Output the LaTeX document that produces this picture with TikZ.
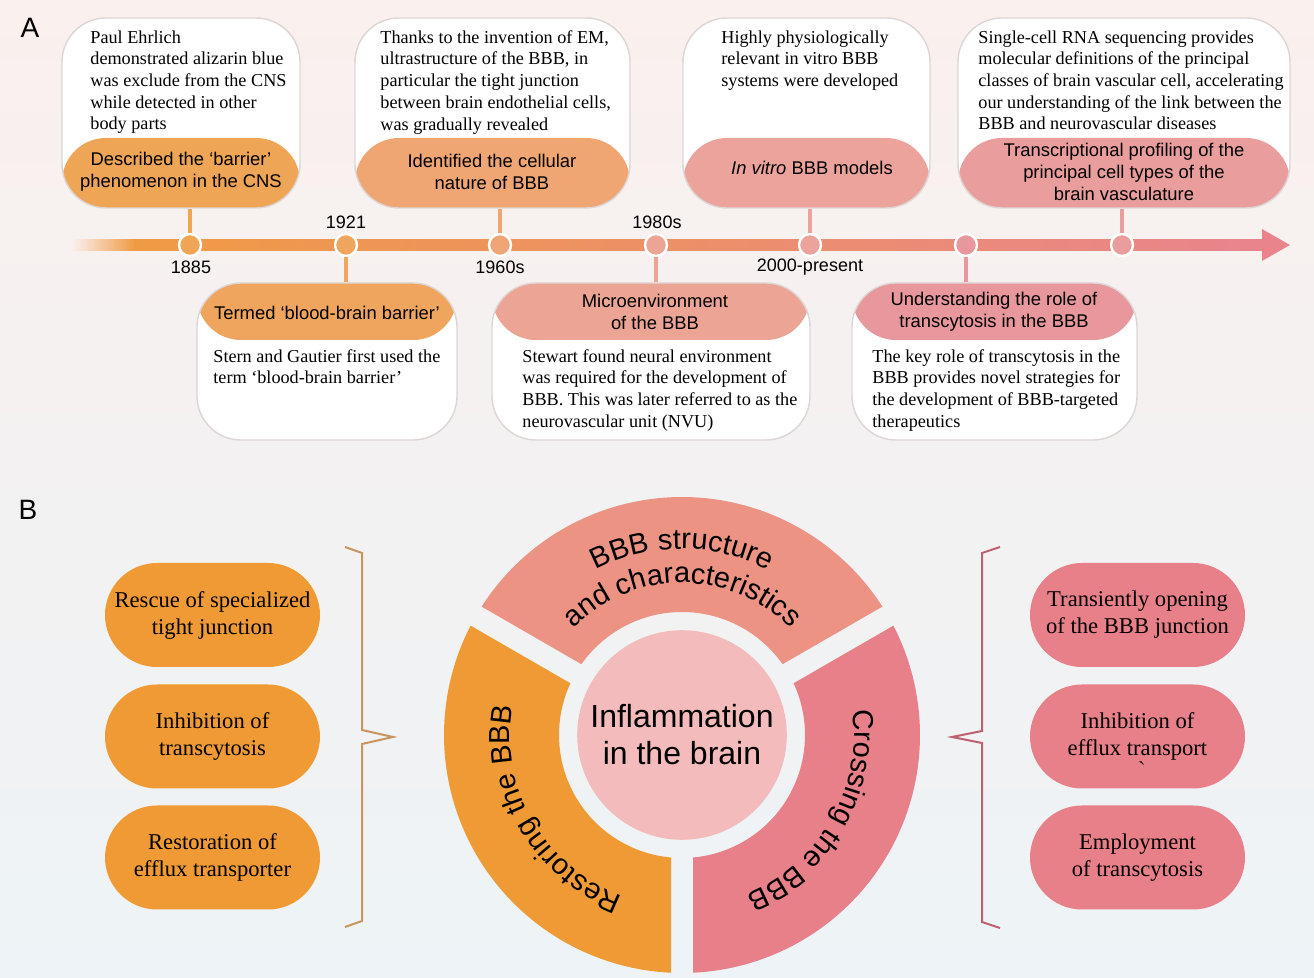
\documentclass[tikz,border=0pt]{standalone}
\usepackage{fontspec}
\setmainfont{Liberation Serif}
\setsansfont{Liberation Sans}
\usetikzlibrary{positioning,calc,decorations.text}

\definecolor{bgtop}{HTML}{FAF0EE}
\definecolor{bgmid}{HTML}{FAF7F1}
\definecolor{bgbot}{HTML}{EDF3F6}
\definecolor{cardline}{HTML}{DCD6D4}
\definecolor{bandA}{HTML}{EFA556}
\definecolor{bandB}{HTML}{F0A672}
\definecolor{bandC}{HTML}{EBA39C}
\definecolor{bandD}{HTML}{E99D9D}
\definecolor{bandE}{HTML}{EFA55D}
\definecolor{bandF}{HTML}{ECA594}
\definecolor{bandG}{HTML}{E8979C}
\definecolor{tlorange}{HTML}{EF9B45}
\definecolor{tlmid}{HTML}{EE9F84}
\definecolor{tlpink}{HTML}{E9848D}
\definecolor{ringtop}{HTML}{EC9384}
\definecolor{ringleft}{HTML}{EF9A35}
\definecolor{ringright}{HTML}{E8808A}
\definecolor{corefill}{HTML}{F3BBBB}
\definecolor{lbrace}{HTML}{C9955F}
\definecolor{rbrace}{HTML}{BE6070}

\newcommand\bodyfont{\fontsize{9.1}{10.85}\selectfont}
\newcommand\headfont{\sffamily\fontsize{9.2}{11}\selectfont}
\newcommand\pillfont{\fontsize{11.3}{13.5}\selectfont}
\newcommand\ringfont{\sffamily\fontsize{14.5}{17}\selectfont}

\begin{document}
\begin{tikzpicture}[x=0.5pt,y=-0.5pt]
\tikzset{
  cardbox/.style={draw=cardline,line width=0.7pt,fill=white,rounded corners=22pt,inner sep=0pt},
  topcard/.style 2 args={cardbox,minimum width=#1,minimum height=95pt,
    path picture={\fill[#2] ([yshift=35pt]path picture bounding box.south west) rectangle (path picture bounding box.south east);}},
  botcard/.style 2 args={cardbox,minimum width=#1,minimum height=78.5pt,
    path picture={\fill[#2] ([yshift=-28.5pt]path picture bounding box.north west) rectangle (path picture bounding box.north east);}},
  bodytext/.style={anchor=north west,align=left,inner sep=0pt,font=\bodyfont},
  headtext/.style={align=center,inner sep=0pt,font=\headfont},
  year/.style={inner sep=0pt,font=\sffamily\fontsize{9}{11}\selectfont},
  dot/.style={circle,fill=#1,draw=white,line width=1.2pt,minimum size=11pt,inner sep=0pt},
  stem/.style={draw=#1,line width=2pt},
  pill/.style={fill=#1,rounded corners=26pt,minimum width=107.5pt,minimum height=52pt,align=center,font=\pillfont},
  panel/.style={inner sep=0pt,font=\sffamily\fontsize{14}{16}\selectfont}
}
% background
\shade[top color=bgtop,middle color=bgmid,bottom color=bgbot] (0,0) rectangle (1314,978);
\useasboundingbox (0,0) rectangle (1314,978);

\node[panel] (lab_a) at (30,28) {A};
\node[panel] (lab_b) at (28,510) {B};

% timeline cards
\node[topcard={119pt}{bandA}] (c1) at (181,113) {};
\node[topcard={137.5pt}{bandB}] (c2) at (492.5,113) {};
\node[topcard={123.5pt}{bandC}] (c3) at (806.5,113) {};
\node[topcard={166pt}{bandD}] (c4) at (1124,113) {};
\node[botcard={130pt}{bandE}] (c5) at (327,361.5) {};
\node[botcard={159pt}{bandF}] (c6) at (651,361.5) {};
\node[botcard={142.5pt}{bandG}] (c7) at (994.5,361.5) {};

\node[bodytext] (c1_body) at (90,30) {Paul Ehrlich\\demonstrated alizarin blue\\was exclude from the CNS\\while detected in other\\body parts};
\node[bodytext] (c2_body) at (380,30) {Thanks to the invention of EM,\\ultrastructure of the BBB, in\\particular the tight junction\\between brain endothelial cells,\\was gradually revealed};
\node[bodytext] (c3_body) at (721,30) {Highly physiologically\\relevant in vitro BBB\\systems were developed};
\node[bodytext] (c4_body) at (978,30) {Single-cell RNA sequencing provides\\molecular definitions of the principal\\classes of brain vascular cell, accelerating\\our understanding of the link between the\\BBB and neurovascular diseases};
\node[bodytext] (c5_body) at (213,349) {Stern and Gautier first used the\\term ‘blood-brain barrier’};
\node[bodytext] (c6_body) at (522,349) {Stewart found neural environment\\was required for the development of\\BBB. This was later referred to as the\\neurovascular unit (NVU)};
\node[bodytext] (c7_body) at (872,349) {The key role of transcytosis in the\\BBB provides novel strategies for\\the development of BBB-targeted\\therapeutics};

\node[headtext] (c1_head) at (181,172) {Described the ‘barrier’\\phenomenon in the CNS};
\node[headtext] (c2_head) at (492,172) {Identified the cellular\\nature of BBB};
\node[headtext] (c3_head) at (812,168) {\textit{In vitro} BBB models};
\node[headtext] (c4_head) at (1124,172) {Transcriptional profiling of the\\principal cell types of the\\brain vasculature};
\node[headtext] (c5_head) at (327,313) {Termed ‘blood-brain barrier’};
\node[headtext] (c6_head) at (655,312) {Microenvironment\\of the BBB};
\node[headtext] (c7_head) at (994,312) {Understanding the role of\\transcytosis in the BBB};

% time axis
\fill[left color=bgtop,right color=tlorange] (72,239.5) rectangle (135,250.5);
\shade[left color=tlorange,middle color=tlmid,right color=tlpink] (134,239.5) rectangle (1264,250.5);
\fill[tlpink] (1262,229) -- (1290,245) -- (1262,261) -- cycle;

\node[dot=bandA] (d1) at (190,245) {};
\node[dot=bandE] (d2) at (346,245) {};
\node[dot=bandB!85!bandF] (d3) at (500,245) {};
\node[dot=bandF] (d4) at (656,245) {};
\node[dot=bandC] (d5) at (810,245) {};
\node[dot=bandG] (d6) at (966,245) {};
\node[dot=bandD] (d7) at (1122,245) {};

\draw[stem=bandA] (d1.north) -- (d1.north |- c1.south);
\draw[stem=bandB] (d3.north) -- (d3.north |- c2.south);
\draw[stem=bandC] (d5.north) -- (d5.north |- c3.south);
\draw[stem=bandD] (d7.north) -- (d7.north |- c4.south);
\draw[stem=bandE] (d2.south) -- (d2.south |- c5.north);
\draw[stem=bandF] (d4.south) -- (d4.south |- c6.north);
\draw[stem=bandG] (d6.south) -- (d6.south |- c7.north);

\node[year] (y1885) at (191,267) {1885};
\node[year] (y1921) at (346,222) {1921};
\node[year] (y1960) at (500,267) {1960s};
\node[year] (y1980) at (657,222) {1980s};
\node[year] (y2000) at (810,267) {2000-present};

% strategy pills
\node[pill=ringleft] (p1) at (212.5,615) {Rescue of specialized\\tight junction};
\node[pill=ringleft] (p2) at (212.5,736.5) {Inhibition of\\transcytosis};
\node[pill=ringleft] (p3) at (212.5,857.5) {Restoration of\\efflux transporter};
\node[pill=ringright] (p4) at (1137.5,615) {Transiently opening\\of the BBB junction};
\node[pill=ringright] (p5) at (1137.5,736.5) {Inhibition of\\efflux transport};
\node[pill=ringright] (p6) at (1137.5,857.5) {Employment\\of transcytosis};
\node[inner sep=0pt,font=\pillfont] (p5_mark) at (1142,770) {\textasciigrave};

\draw[lbrace,line width=1pt] (345,547) -- (362,553) -- (362,730) -- (393,737) -- (362,744) -- (362,921) -- (345,927);
\draw[rbrace,line width=1pt] (1000,547) -- (982,553) -- (982,731) -- (952,737) -- (982,743) -- (982,922) -- (1000,928);

% ring
\coordinate (ringc) at (682,735);
\begin{scope}[shift={(ringc)},x=0.5pt,y=0.5pt]
\def\rin{123}\def\rout{238}\def\din{5.13}\def\dout{2.65}
\foreach \a/\b/\col in {30/150/ringtop,150/270/ringleft,-90/30/ringright}{
  \fill[\col] ({\a+\din}:\rin) -- ({\a+\dout}:\rout)
    arc[start angle={\a+\dout},end angle={\b-\dout},radius=\rout]
    -- ({\b-\din}:\rin)
    arc[start angle={\b-\din},end angle={\a+\din},radius=\rin] -- cycle;
}
\path[decorate,decoration={text along path,text align=center,
  text={|\ringfont|BBB structure}}] (150:186) arc[start angle=150,end angle=30,radius=186];
\path[decorate,decoration={text along path,text align=center,
  text={|\ringfont|and characteristics}}] (150:152) arc[start angle=150,end angle=30,radius=152];
\path[decorate,decoration={text along path,text align=center,
  text={|\ringfont|Restoring the BBB}}] (270:172) arc[start angle=270,end angle=150,radius=172];
\path[decorate,decoration={text along path,text align=center,
  text={|\ringfont|Crossing the BBB}}] (30:172) arc[start angle=30,end angle=-90,radius=172];
\node[circle,fill=corefill,minimum size=102pt,align=center,
  font=\sffamily\fontsize{16}{18.5}\selectfont] (core) at (0,0) {Inflammation\\in the brain};
\end{scope}
\end{tikzpicture}
\end{document}
